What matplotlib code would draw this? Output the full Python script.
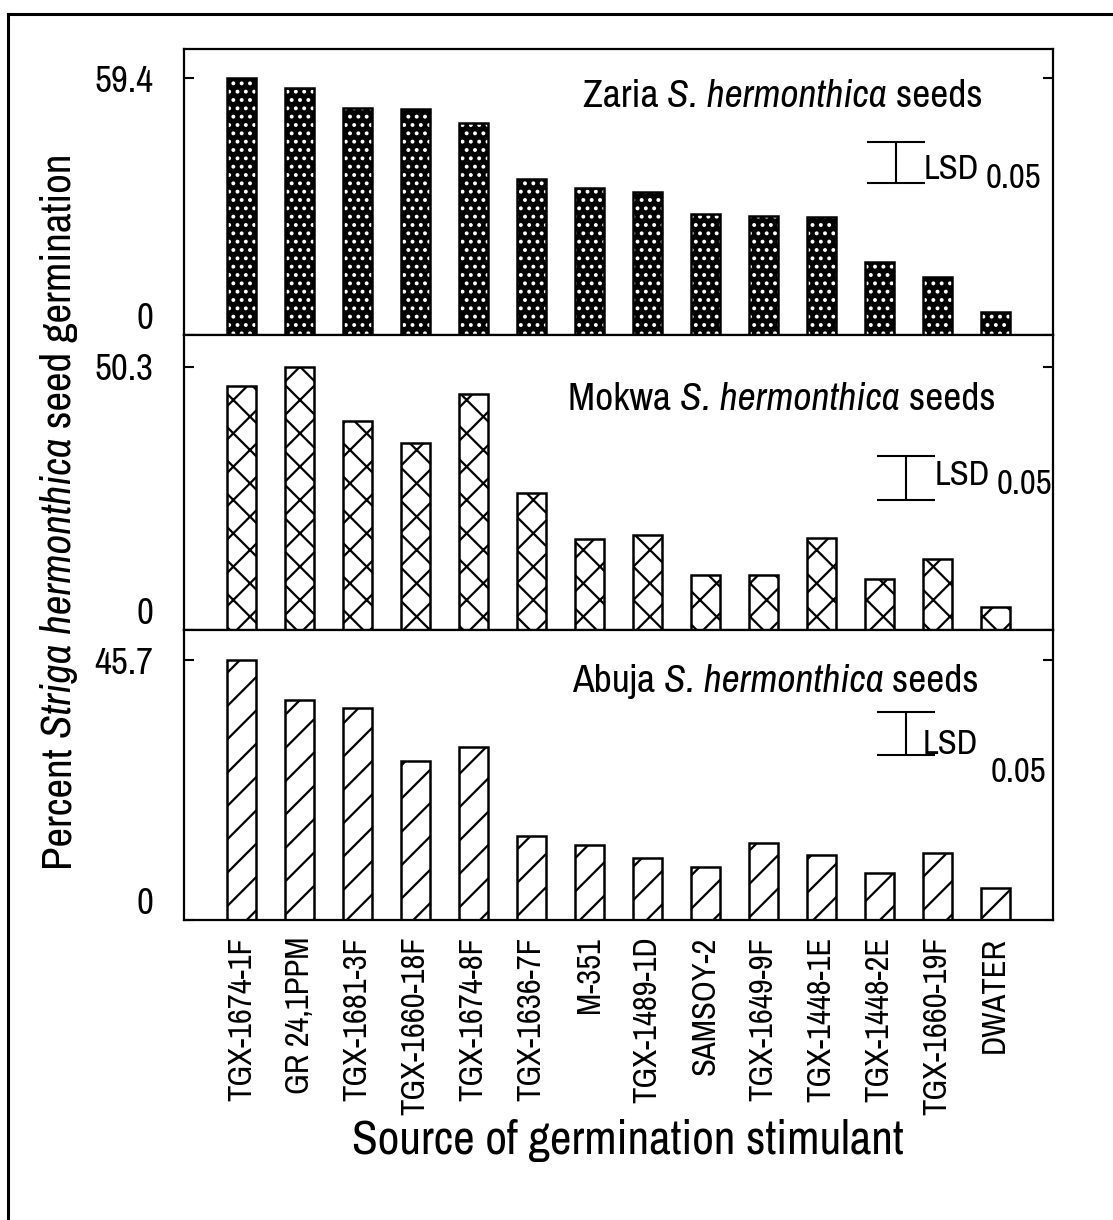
import numpy as np
import matplotlib
matplotlib.use("Agg")
import matplotlib.pyplot as plt
from matplotlib.lines import Line2D

plt.rcParams['font.family'] = ['Archivo Narrow', 'Roboto Condensed', 'Liberation Sans', 'DejaVu Sans']
plt.rcParams['hatch.linewidth'] = 1.6

# donnees
stimulants = ['TGX-1674-1F', 'GR 24,1PPM', 'TGX-1681-3F', 'TGX-1660-18F', 'TGX-1674-8F',
              'TGX-1636-7F', 'M-351', 'TGX-1489-1D', 'SAMSOY-2', 'TGX-1649-9F',
              'TGX-1448-1E', 'TGX-1448-2E', 'TGX-1660-19F', 'DWATER']
zaria = [59.4, 57.1, 52.5, 52.2, 49.0, 36.1, 34.0, 33.1, 28.0, 27.5, 27.3, 16.9, 13.4, 5.3]
mokwa = [46.7, 50.3, 40.0, 35.8, 45.1, 26.2, 17.4, 18.2, 10.5, 10.5, 17.6, 9.8, 13.6, 4.4]
abuja = [45.7, 38.7, 37.3, 27.9, 30.4, 14.8, 13.2, 10.9, 9.3, 13.5, 11.4, 8.3, 11.8, 5.6]
sites = ['Zaria', 'Mokwa', 'Abuja']
max_ticks = [59.4, 50.3, 45.7]
lsd = [9.5, 8.4, 7.6]
lsd_bottom = [35.1, 24.9, 29.0]

fig = plt.figure(figsize=(11.13, 12.2), dpi=100)

# cadre du scan (haut et gauche)
fig.add_artist(Line2D([8/1113, 8/1113], [0, 1 - 14/1220], transform=fig.transFigure, color='black', lw=2.2))
fig.add_artist(Line2D([8/1113, 1], [1 - 14/1220, 1 - 14/1220], transform=fig.transFigure, color='black', lw=2.2))

positions = [(0.7254, 0.2344), (0.4836, 0.2418), (0.2459, 0.2377)]
ylims = [66.1, 56.4, 51.0]
title_pos = [(0.459, 0.797), (0.442, 0.746), (0.446, 0.786)]
lsd_x = [11.29, 11.47, 11.47]
lsd_txt = [(0.47, 1.55, 0.34, 0.12), (0.48, 1.56, 0.57, 0.35), (0.28, 1.45, 0.26, -0.40)]
data = [zaria, mokwa, abuja]
x = np.arange(len(stimulants))


def titre(ax, xa, ya, site, fs=28.5):
    # texte en plusieurs morceaux pour l'italique
    t1 = ax.text(xa, ya, site + ' ', transform=ax.transAxes, ha='left', va='baseline', fontsize=fs)
    t2 = ax.annotate('S. hermonthica', xy=(1, 0), xycoords=t1, ha='left', va='bottom',
                     fontsize=fs, style='italic')
    ax.annotate(' seeds', xy=(1, 0), xycoords=t2, ha='left', va='bottom', fontsize=fs)


for i, vals in enumerate(data):
    ax = fig.add_axes([0.1653, positions[i][0], 0.7808, positions[i][1]])
    if i == 0:
        ax.bar(x, vals, width=0.5, color='black', edgecolor='white', hatch='..', lw=0)
        ax.bar(x, vals, width=0.5, fill=False, edgecolor='black', lw=1.8)
    elif i == 1:
        ax.bar(x, vals, width=0.5, color='white', edgecolor='black', hatch='x', lw=1.8)
    else:
        ax.bar(x, vals, width=0.5, color='white', edgecolor='black', hatch='/', lw=1.8)
    ax.set_xlim(-1, 14)
    ax.set_ylim(0, ylims[i])
    ax.set_yticks([0, max_ticks[i]])
    ax.set_yticklabels(['0', f'{max_ticks[i]}'], fontsize=26.5)
    ax.get_yticklabels()[0].set_verticalalignment('bottom')
    ax.tick_params(axis='y', direction='in', length=7, width=1.5, right=True, pad=22)
    for sp in ax.spines.values():
        sp.set_linewidth(1.6)
    if i < 2:
        ax.set_xticks([])
    else:
        ax.set_xticks(x)
        ax.set_xticklabels(stimulants, rotation=90, fontsize=23.5, va='top')
        ax.tick_params(axis='x', length=0, pad=12)

    titre(ax, title_pos[i][0], title_pos[i][1], sites[i])

    ax.errorbar(lsd_x[i], lsd_bottom[i] + lsd[i] / 2, yerr=lsd[i] / 2, fmt='none',
                ecolor='black', elinewidth=1.5, capsize=21, capthick=1.5)
    dx1, dx2, fy1, fy2 = lsd_txt[i]
    ax.text(lsd_x[i] + dx1, lsd_bottom[i] + lsd[i] * fy1, 'LSD', ha='left', va='center', fontsize=25)
    ax.text(lsd_x[i] + dx2, lsd_bottom[i] + lsd[i] * fy2, '0.05', ha='left', va='center', fontsize=25)

# titre de l'axe y en morceaux (Striga hermonthica en italique)
y1 = fig.text(0.036, 0.287, 'Percent ', rotation=90, ha='left', va='bottom', fontsize=31)
y2 = plt.annotate('Striga hermonthica', xy=(0, 1), xycoords=y1, rotation=90, ha='left', va='bottom',
                  fontsize=31, style='italic', annotation_clip=False)
plt.annotate(' seed germination', xy=(0, 1), xycoords=y2, rotation=90, ha='left', va='bottom',
             fontsize=31, annotation_clip=False)

fig.text(628/1113, 1 - 1140/1220, 'Source of germination stimulant',
         ha='center', va='center', fontsize=34)

plt.savefig('out.png', dpi=100)
